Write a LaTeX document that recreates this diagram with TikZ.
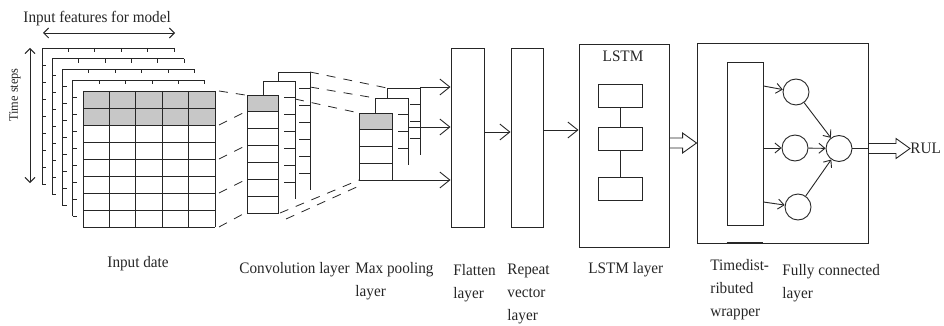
\documentclass[tikz,border=0pt]{standalone}
\usepackage{fontspec}
\setmainfont[FakeStretch=0.95]{Liberation Serif}
\usetikzlibrary{arrows.meta,calc}

\begin{document}
\begin{tikzpicture}[x=1pt,y=-1pt,line width=0.9pt,color=black!85,
  blk/.style={draw,fill=white,inner sep=0pt},
  cell/.style={fill=black!22},
  lbl/.style={font=\fontsize{16}{23}\selectfont,inner sep=0pt,align=left},
  link/.style={-{Straight Barb[length=10pt,width=16pt]}},
  thin link/.style={-{Straight Barb[length=6pt,width=10pt]}},
  dashline/.style={line width=0.8pt,dash pattern=on 9pt off 8pt},
  neuron/.style={draw,circle,minimum size=26pt,inner sep=0pt},
  hollow/.style={to path={let \p1=(\tikztostart), \p2=(\tikztotarget) in
    (\x1,\y1+5pt) -- (\x2-14pt,\y1+5pt) -- (\x2-14pt,\y1+10pt) -- (\x2,\y1)
    -- (\x2-14pt,\y1-10pt) -- (\x2-14pt,\y1-5pt) -- (\x1,\y1-5pt) -- cycle}}]
  \useasboundingbox (0,0) rectangle (944,326);

  % input samples, stacked
  \node[lbl,anchor=base west] (feat) at (23,23) {Input features for model};
  \draw[{Straight Barb[length=5pt,width=10pt]}-{Straight Barb[length=5pt,width=10pt]}] (43,33) -- (175,33);
  \node[lbl,font=\fontsize{13}{15}\selectfont,rotate=90] (tsteps) at (15,95) {Time steps};
  \draw[{Straight Barb[length=5pt,width=10pt]}-{Straight Barb[length=5pt,width=10pt]}] (30,48) -- (30,183);
  \foreach \k in {0,1,2,3} {
    \begin{scope}[shift={(42+10.25*\k,48+10.75*\k)}]
      \draw (0,136) -- (0,0) -- (132,0);
      \foreach \c in {26.4,52.8,79.2,105.6,132} \draw (\c,0) -- ++(0,4);
      \foreach \r in {17,34,...,136} \draw (0,\r) -- ++(4,0);
    \end{scope}
  }
  \fill[white] (83,91) rectangle (215,227);
  \fill[cell] (83,91) rectangle (215,125);
  \foreach \c in {0,...,5} \draw (83+26.4*\c,91) -- ++(0,136);
  \foreach \r in {0,...,8} \draw (83,91+17*\r) -- ++(132,0);

  % convolution layer
  \foreach \x/\y/\d in {278/72/9,263/81/14} {
    \draw (\x,\y+\d) -- (\x,\y) -- (\x+32,\y) -- (\x+32,\y+118);
    \foreach \r in {1,...,6} \draw (\x+32,\y+16.86*\r) -- ++(-11,0);
  }
  \fill[cell] (247,95) rectangle (278,112);
  \draw (247,95) rectangle (278,213);
  \foreach \r in {1,...,6} \draw (247,95+16.86*\r) -- ++(31,0);
  \foreach \a/\b in {91/95,125/112,159/146,193/180,227/213}
    \draw[dashline] (219,\a) -- (245,\b);

  % max pooling
  \foreach \x/\y/\d in {387/88/10,375/98/15} {
    \draw (\x,\y+\d) -- (\x,\y) -- (\x+33,\y) -- (\x+33,\y+67);
    \foreach \r in {1,2,3} \draw (\x+33,\y+16.75*\r) -- ++(-10,0);
  }
  \fill[cell] (359,113) rectangle (392,130);
  \draw (359,113) rectangle (392,180);
  \foreach \r in {1,2,3} \draw (359,113+16.75*\r) -- ++(33,0);
  \draw[dashline] (310,72) -- (387,88);
  \draw[dashline] (310,87) -- (375,98);
  \draw[dashline] (295,99) -- (359,113);
  \draw[dashline] (280,213) -- (359,180);
  \draw[dashline] (286,219) -- (359,186);

  % flatten, repeat vector, LSTM
  \node[blk,minimum width=33pt,minimum height=179pt] (flat) at (467.5,137.5) {};
  \node[blk,minimum width=32pt,minimum height=179pt] (rep) at (527,137.5) {};
  \node[blk,minimum width=90pt,minimum height=203pt] (lstm) at (624,145.5) {};
  \node[lbl,anchor=base] (lstmtxt) at (623,62) {LSTM};
  \node[blk,minimum width=44pt,minimum height=23pt] (cell1) at (620,95.5) {};
  \node[blk,minimum width=44pt,minimum height=23pt] (cell2) at (620,139) {};
  \node[blk,minimum width=44pt,minimum height=23pt] (cell3) at (620,188.5) {};
  \draw (cell1) -- (cell2);
  \draw (cell2) -- (cell3);

  \coordinate (p1) at (420,87);
  \coordinate (p2) at (408,127);
  \coordinate (p3) at (392,180);
  \draw[link] (p1) -- (p1 -| flat.west);
  \draw[link] (p2) -- (p2 -| flat.west);
  \draw[link] (p3) -- (p3 -| flat.west);
  \draw[link] ([yshift=5.5pt]flat.east) -- ([yshift=5.5pt]rep.west);
  \draw[link] ([yshift=7.5pt]rep.east) -- ([yshift=7.5pt]rep.east -| lstm.west);

  % time distributed wrapper and dense part
  \node[blk,minimum width=171pt,minimum height=200pt] (tdw) at (782.5,143) {};
  \node[blk,minimum width=36pt,minimum height=163pt] (tdwin) at (745,143.5) {};
  \draw[line width=2pt] (tdwin.south west |- tdw.south) -- (tdwin.south east |- tdw.south);
  \node[neuron] (n1) at (796,92) {};
  \node[neuron] (n2) at (795,148) {};
  \node[neuron] (n3) at (798,207) {};
  \node[neuron] (out) at (839,148.5) {};
  \draw[thin link] ($(tdwin.east |- n1)+(0,-6)$) -- (n1);
  \draw[thin link] (tdwin.east |- n2) -- (n2);
  \draw[thin link] ($(tdwin.east |- n3)+(0,-5)$) -- (n3);
  \foreach \n in {n1,n2,n3} \draw[thin link] (\n) -- (out);
  \draw (out) -- (out -| tdw.east);
  \draw[hollow] (tdw.west -| lstm.east) to (tdw.west);
  \node[lbl,anchor=west] (rul) at (910,148) {RUL};
  \draw[hollow] (tdw.east |- out) to (rul.west);

  % captions
  \node[lbl,anchor=base west] (lin) at (107,267) {Input date};
  \node[lbl,anchor=base west] (lconv) at (239,273) {Convolution layer};
  \node[lbl,anchor=north west] (lpool) at (355,262) {Max pooling\\layer};
  \node[lbl,anchor=north west] (lflat) at (453,264) {Flatten\\layer};
  \node[lbl,anchor=north west] (lrep) at (507,264) {Repeat\\vector\\layer};
  \node[lbl,anchor=base west] (llstm) at (588,273) {LSTM layer};
  \node[lbl,anchor=north west] (ltdw) at (710,259) {Timedist-\\ributed\\wrapper};
  \node[lbl,anchor=north west] (lfc) at (782,264) {Fully connected\\layer};
\end{tikzpicture}
\end{document}
